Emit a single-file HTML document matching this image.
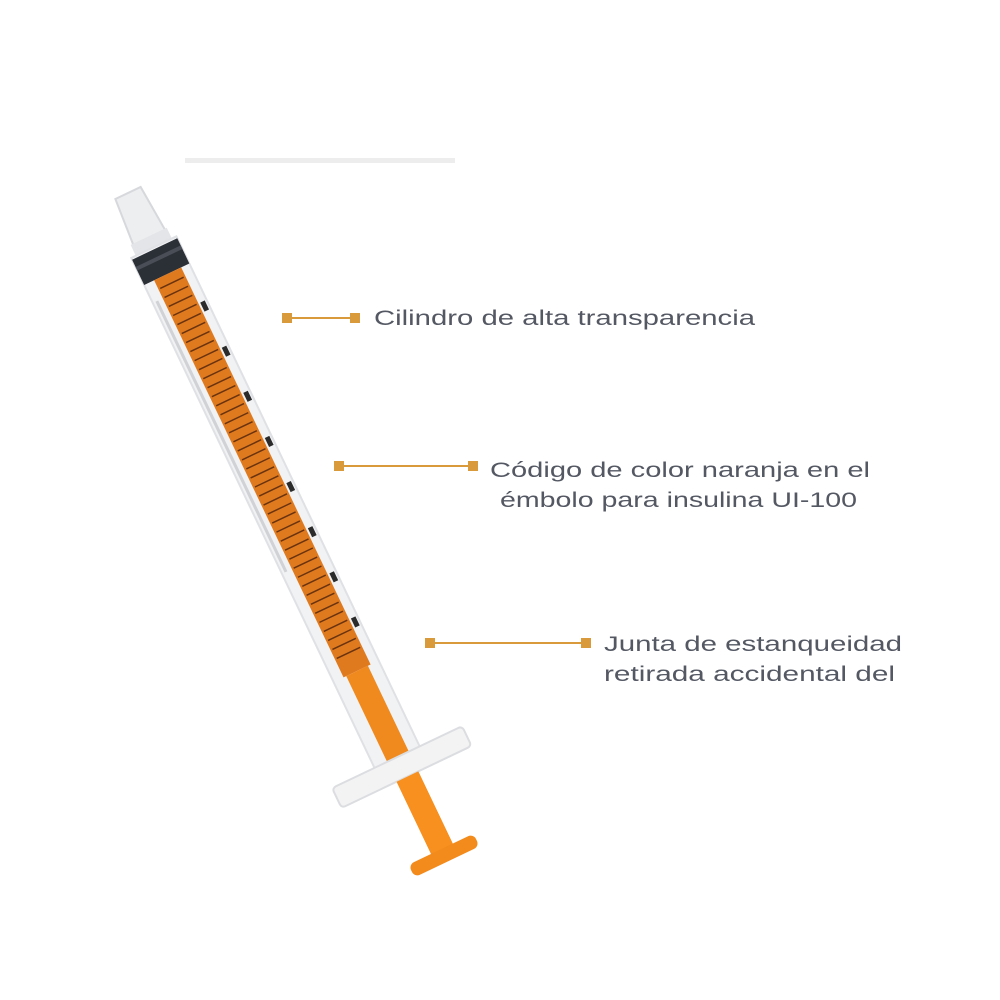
<!DOCTYPE html>
<html><head><meta charset="utf-8"><style>
html,body{margin:0;padding:0;background:#fff;}
svg{display:block}
text{font-family:"Liberation Sans",sans-serif;font-size:21px;fill:#545863;}
</style></head><body>
<svg width="1000" height="1000" viewBox="0 0 1000 1000" xmlns="http://www.w3.org/2000/svg">
<rect width="1000" height="1000" fill="#fff"/>
<rect x="185" y="158" width="270" height="5" fill="#ededee"/>
<g transform="translate(128,193) rotate(-25.5)">
  <path d="M-14 0 L14 0 L18 55 L-18 55 Z" fill="#eceef0" stroke="#d6d8dc" stroke-width="2"/>
  <rect x="-20" y="48" width="40" height="12" fill="#e3e5e8"/>
  <rect x="-25" y="60" width="50" height="580" fill="#f1f2f4" stroke="#dfe1e4" stroke-width="2"/>
  <rect x="-25" y="62" width="50" height="28" fill="#2b2f36"/>
  <rect x="-25" y="70" width="50" height="4" fill="#4a4f57"/>
  <rect x="-14" y="90" width="30" height="440" fill="#e07a1f"/>
  <g stroke="#6a3310" stroke-width="1.5">
    <path d="M-12 100H14M-12 110H14M-12 120H14M-12 130H14M-12 140H14M-12 150H14M-12 160H14M-12 170H14M-12 180H14M-12 190H14M-12 200H14M-12 210H14M-12 220H14M-12 230H14M-12 240H14M-12 250H14M-12 260H14M-12 270H14M-12 280H14M-12 290H14M-12 300H14M-12 310H14M-12 320H14M-12 330H14M-12 340H14M-12 350H14M-12 360H14M-12 370H14M-12 380H14M-12 390H14M-12 400H14M-12 410H14M-12 420H14M-12 430H14M-12 440H14M-12 450H14M-12 460H14M-12 470H14M-12 480H14M-12 490H14M-12 500H14M-12 510H14"/>
  </g>
  <g fill="#2b2b2b">
    <rect x="18" y="130" width="5" height="10"/><rect x="18" y="180" width="5" height="10"/>
    <rect x="18" y="230" width="5" height="10"/><rect x="18" y="280" width="5" height="10"/>
    <rect x="18" y="330" width="5" height="10"/><rect x="18" y="380" width="5" height="10"/>
    <rect x="18" y="430" width="5" height="10"/><rect x="18" y="480" width="5" height="10"/>
  </g>
  <rect x="-22" y="110" width="3" height="300" fill="#b0b2b6" opacity="0.5"/>
  <rect x="-11" y="530" width="24" height="200" fill="#f08a1e"/>
  <rect x="-72" y="625" width="144" height="22" rx="4" fill="#f3f3f4" stroke="#dcdde0" stroke-width="2"/>
  <rect x="-11" y="647" width="24" height="83" fill="#f7901f"/>
  <rect x="-36" y="727" width="72" height="14" rx="6" fill="#f38a1c"/>
</g>
<g fill="#d99a3c">
  <rect x="282" y="313" width="10" height="10"/><rect x="350" y="313" width="10" height="10"/>
  <rect x="334" y="461" width="10" height="10"/><rect x="468" y="461" width="10" height="10"/>
  <rect x="425" y="638" width="10" height="10"/><rect x="581" y="638" width="10" height="10"/>
</g>
<g stroke="#d99a3c" stroke-width="2">
  <line x1="287" y1="318" x2="355" y2="318"/>
  <line x1="339" y1="466" x2="473" y2="466"/>
  <line x1="430" y1="643" x2="586" y2="643"/>
</g>
<text x="374" y="325" textLength="381" lengthAdjust="spacingAndGlyphs">Cilindro de alta transparencia</text>
<text x="490" y="477" textLength="380" lengthAdjust="spacingAndGlyphs">Código de color naranja en el</text>
<text x="500" y="507" textLength="357" lengthAdjust="spacingAndGlyphs">émbolo para insulina UI-100</text>
<text x="604" y="651" textLength="298" lengthAdjust="spacingAndGlyphs">Junta de estanqueidad</text>
<text x="604" y="681" textLength="291" lengthAdjust="spacingAndGlyphs">retirada accidental del</text>
</svg>
</body></html>
